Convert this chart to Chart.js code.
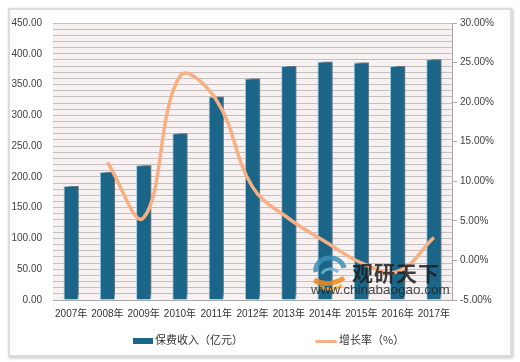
<!DOCTYPE html>
<html>
<head>
<meta charset="utf-8">
<script src="https://cdn.jsdelivr.net/npm/chart.js@4/dist/chart.umd.min.js"></script>
<style>
  html, body { margin: 0; padding: 0; background: #fff; }
  #wrap { position: relative; width: 520px; height: 362px; overflow: hidden; }
  #frame { position: absolute; left: 8px; top: 8px; width: 500px; height: 345px;
           border: 2px solid #dcdcdc; box-shadow: 1px 1px 3px rgba(0,0,0,0.25); }
  #myChart { position: absolute; left: 0; top: 0; }
  .legend { position: absolute; top: 331px; font: 11px 'Noto Sans CJK SC', sans-serif; color: #333; white-space: nowrap; }
  .legend span.sw { display: inline-block; vertical-align: middle; margin-right: 2px; }
  .wm1 { position: absolute; left: 352px; top: 257px; font: bold 21px 'Noto Sans CJK SC', sans-serif; color: #1f1f1f; letter-spacing: 1px; opacity: 0.85; }
  .wm2 { position: absolute; left: 311px; top: 282px; font: 13.5px 'Liberation Sans', Arial, sans-serif; color: #222; opacity: 0.8; }
  .logo { position: absolute; left: 310px; top: 254px; opacity: 0.85; }
</style>
</head>
<body>
<div id="wrap">
  <div id="frame"></div>
  <canvas id="myChart" width="520" height="362"></canvas>
  <div class="legend" style="left:133px"><span class="sw" style="width:20px;height:6px;background:#1b6688"></span>保费收入（亿元）</div>
  <div class="legend" style="left:315px"><span class="sw" style="width:22px;height:3px;background:#f7b084;border-radius:2px"></span>增长率（%）</div>
  <svg class="logo" width="40" height="40" viewBox="0 0 40 40">
    <path d="M6 18 A14 12 0 0 1 34 14" stroke="#3b8fb8" stroke-width="5" fill="none"/>
    <path d="M12 20 A9 7 0 0 1 28 18" stroke="#6fb3d6" stroke-width="3" fill="none"/>
    <path d="M4 26 Q18 34 34 24" stroke="#f08a1e" stroke-width="5" fill="none"/>
    <path d="M10 33 Q22 38 32 31" stroke="#f6b343" stroke-width="3" fill="none"/>
  </svg>
  <div class="wm1">观研天下</div>
  <div class="wm2">www.chinabaogao.com</div>
</div>
<script>
const years = ["2007年", "2008年", "2009年", "2010年", "2011年", "2012年", "2013年", "2014年", "2015年", "2016年", "2017年"];
const premium = [185, 208, 219, 271, 330, 360, 380, 387, 386, 380, 391];
const growth = [null, 12.4, 5.4, 23.3, 20.3, 9.3, 5.3, 2.4, -0.3, -1.4, 2.9];
const leftTicks = [0, 50, 100, 150, 200, 250, 300, 350, 400, 450];

const plotBg = {
  id: 'plotBg',
  beforeDraw(chart) {
    const a = chart.chartArea, ctx = chart.ctx;
    ctx.save();
    ctx.fillStyle = '#f8f1f1';
    ctx.fillRect(a.left, a.top, a.right - a.left, a.bottom - a.top);
    ctx.restore();
  }
};

// grey drop shadow up-right of the bars, like the original
const barShadow = {
  id: 'barShadow',
  beforeDatasetDraw(chart, args) {
    if (args.index !== 0) return;
    const ctx = chart.ctx;
    ctx.save();
    ctx.shadowColor = 'rgba(70,70,70,0.7)';
    ctx.shadowBlur = 4;
    ctx.shadowOffsetX = 4;
    ctx.shadowOffsetY = -4;
  },
  afterDatasetDraw(chart, args) {
    if (args.index !== 0) return;
    chart.ctx.restore();
  }
};

Chart.defaults.font.family = "'Liberation Sans', 'Noto Sans CJK SC', sans-serif";
Chart.defaults.font.size = 10;
Chart.defaults.color = '#404048';

const ctx = document.getElementById("myChart").getContext("2d");
const chart = new Chart(ctx, {
  type: 'bar',
  data: {
    labels: years,
    datasets: [
      {
        label: '保费收入（亿元）',
        data: premium,
        yAxisID: 'y',
        backgroundColor: '#1b6688',
        borderColor: '#9fd0e6',
        borderWidth: 1,
        barPercentage: 0.42,
        categoryPercentage: 1,
        order: 2
      },
      {
        type: 'line',
        label: '增长率（%）',
        data: growth,
        yAxisID: 'y1',
        borderColor: '#f7b084',
        borderWidth: 3.5,
        pointRadius: 0,
        tension: 0.4,
        fill: false,
        order: 1
      }
    ]
  },
  options: {
    responsive: false,
    animation: false,
    layout: { padding: { top: 23, left: 0, right: 0, bottom: 0 } },
    plugins: { legend: { display: false }, tooltip: { enabled: false } },
    scales: {
      x: {
        offset: true,
        grid: { display: false, drawTicks: false },
        border: { display: true, color: '#a8a8a8' },
        ticks: { padding: 8, color: '#333', maxRotation: 0, minRotation: 0, autoSkip: false },
        afterFit(s) { s.height = 62; }
      },
      y: {
        position: 'left',
        min: 0,
        max: 450,
        ticks: {
          stepSize: 10,
          maxTicksLimit: 100,
          padding: 11,
          autoSkip: false,
          callback: v => leftTicks.includes(v) ? v.toFixed(2) : ''
        },
        grid: { color: '#c4c0c0', lineWidth: 1, drawTicks: false },
        border: { display: false },
        afterFit(s) { s.width = 53; }
      },
      y1: {
        position: 'right',
        min: -5,
        max: 30,
        ticks: {
          stepSize: 5,
          padding: 3,
          color: '#404040',
          callback: v => v.toFixed(2) + '%'
        },
        grid: { drawOnChartArea: false, drawTicks: true, tickLength: 5, color: '#a8a8a8' },
        border: { display: true, color: '#a8a8a8' },
        afterFit(s) { s.width = 68; }
      }
    }
  },
  plugins: [plotBg, barShadow]
});
</script>
</body>
</html>
